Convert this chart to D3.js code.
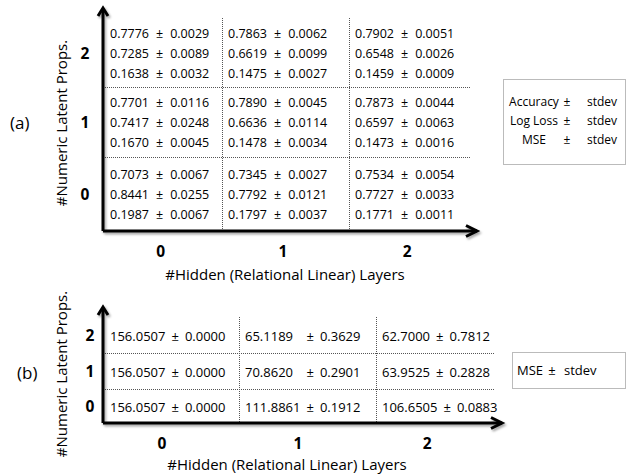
<!DOCTYPE html>
<html><head><meta charset="utf-8">
<script src="https://cdn.jsdelivr.net/npm/d3@7"></script>
<style>
body{margin:0;background:#fff}
text{font-family:'Open Sans',sans-serif;fill:#000}
</style></head>
<body><svg id="c" width="626" height="474"></svg>
<script>
// ---- data ----
const hiddenLayers = [0, 1, 2];
const latentProps = [0, 1, 2];
// panel (a), indexed [latentProps][hiddenLayers]
const accMean = [[0.7073,0.7345,0.7534],[0.7701,0.7890,0.7873],[0.7776,0.7863,0.7902]];
const accStd  = [[0.0067,0.0027,0.0054],[0.0116,0.0045,0.0044],[0.0029,0.0062,0.0051]];
const llMean  = [[0.8441,0.7792,0.7727],[0.7417,0.6636,0.6597],[0.7285,0.6619,0.6548]];
const llStd   = [[0.0255,0.0121,0.0033],[0.0248,0.0114,0.0063],[0.0089,0.0099,0.0026]];
const mseMeanA = [[0.1987,0.1797,0.1771],[0.1670,0.1478,0.1473],[0.1638,0.1475,0.1459]];
const mseStdA  = [[0.0067,0.0037,0.0011],[0.0045,0.0034,0.0016],[0.0032,0.0027,0.0009]];
// panel (b)
const mseMeanB = [[156.0507,111.8861,106.6505],[156.0507,70.8620,63.9525],[156.0507,65.1189,62.7000]];
const mseStdB  = [[0.0000,0.1912,0.0883],[0.0000,0.2901,0.2828],[0.0000,0.3629,0.7812]];
const legendA = ["Accuracy", "Log Loss", "MSE"];
const legendB = ["MSE"];
const xTitle = "#Hidden (Relational Linear) Layers";
const yTitle = "#Numeric Latent Props.";

const svg = d3.select("#c");
const defs = svg.append("defs");
const f = defs.append("filter").attr("id","sh").attr("x","-20%").attr("y","-20%").attr("width","140%").attr("height","140%");
f.append("feDropShadow").attr("dx",1.5).attr("dy",2).attr("stdDeviation",1).attr("flood-color","#000").attr("flood-opacity",0.35);

function drawPM(sel, x, y, m, s, gap, pmAt){
  const t = sel.append("text").attr("x", x).attr("y", y);
  t.append("tspan").text(m.toFixed(4));
  const pm = t.append("tspan").text("\u00b1");
  if (pmAt != null) pm.attr("x", pmAt); else pm.attr("dx", gap);
  t.append("tspan").attr("dx", gap).text(s.toFixed(4));
  return t;
}

function panel(cfg){
  const g = svg.append("g");
  const x = d3.scaleLinear().domain([0,1,2,3]).range(cfg.xr);
  const y = d3.scaleLinear().domain([0,1,2,3]).range(cfg.yr);
  const x0 = x(0) - 1, y0 = y(0);
  // grid
  const grid = g.append("g").attr("stroke","#555").attr("stroke-width",1).attr("stroke-dasharray","1,1");
  [1,2].forEach(i=>{
    grid.append("line").attr("x1",Math.round(x(i))+0.5).attr("x2",Math.round(x(i))+0.5).attr("y1",y(3)).attr("y2",y0);
    grid.append("line").attr("x1",x0).attr("x2",x(3)).attr("y1",Math.round(y(i))+0.5).attr("y2",Math.round(y(i))+0.5);
  });
  // axes
  const ax = g.append("g").attr("stroke","#000").attr("stroke-width",3).attr("fill","none").attr("filter","url(#sh)");
  const tipX = x(3) + cfg.arrowExt, tipY = y(3) - 10;
  ax.append("path").attr("d",`M${x0},${y0}H${tipX}`);
  ax.append("path").attr("d",`M${x0},${y0}V${tipY+1}`);
  ax.append("path").attr("d",`M${tipX-11},${y0-5.5}L${tipX},${y0}L${tipX-11},${y0+5.5}`).attr("stroke-linejoin","miter");
  ax.append("path").attr("d",`M${x0-5},${tipY+8}L${x0},${tipY}L${x0+5},${tipY+8}`).attr("stroke-linejoin","miter");
  // cells
  const cells = g.append("g").style("font-size", cfg.fs + "px");
  latentProps.forEach(r=>{
    const cy = (y(r) + y(r+1)) / 2;
    hiddenLayers.forEach(c=>{
      const cx = x(c) + 6;
      cfg.lines.forEach((ln, k)=>{
        const yy = cy + cfg.base + (k - (cfg.lines.length-1)/2) * 20;
        let pmAt = null;
        if (cfg.alignCol === c) {
          const tmp = cells.append("text");
          let w = 0;
          latentProps.forEach(rr=>{ tmp.text(ln.m[rr][c].toFixed(4)); w = Math.max(w, tmp.node().getComputedTextLength()); });
          tmp.remove();
          pmAt = cx + w + cfg.gap;
        }
        drawPM(cells, cx, yy, ln.m[r][c], ln.s[r][c], cfg.gap, pmAt);
      });
    });
    g.append("text").attr("x", cfg.rowLabX).attr("y", cy + 6).attr("text-anchor","middle")
      .style("font-size","15.5px").style("font-weight","bold").text(r);
  });
  hiddenLayers.forEach(c=>{
    g.append("text").attr("x", x(c + cfg.tickPos)).attr("y", cfg.tickY).attr("text-anchor","middle")
      .style("font-size","15.5px").style("font-weight","bold").text(c);
  });
  g.append("text").attr("x", cfg.xTitleX).attr("y", cfg.xTitleY).attr("text-anchor","middle")
    .style("font-size","15px").text(xTitle);
  g.append("text").attr("transform",`translate(${cfg.yTitleX},${cfg.yTitleY}) rotate(-90)`).attr("text-anchor","middle")
    .style("font-size","15px").text(yTitle);
  g.append("text").attr("x", cfg.labX).attr("y", cfg.labY).style("font-size","17px").text(cfg.label);
  // legend
  const lg = g.append("g").style("font-size", cfg.legFs + "px");
  lg.append("rect").attr("x",cfg.leg.x+0.5).attr("y",cfg.leg.y+0.5).attr("width",cfg.leg.w).attr("height",cfg.leg.h)
    .attr("fill","none").attr("stroke","#777").attr("stroke-dasharray","1,1");
  cfg.leg.items.forEach((it,k)=>{
    const yy = cfg.leg.ty + k*19;
    lg.append("text").attr("x",cfg.leg.nameX).attr("y",yy).attr("text-anchor",cfg.leg.anchor).text(it);
    lg.append("text").attr("x",cfg.leg.pmX).attr("y",yy).attr("text-anchor","middle").text("\u00b1");
    lg.append("text").attr("x",cfg.leg.sdX).attr("y",yy).text("stdev");
  });
}

panel({
  xr:[104,222,349,470], yr:[231,157,87,18], arrowExt:7, fs:12.5, legFs:12, gap:7, base:5,
  lines:[{m:accMean,s:accStd},{m:llMean,s:llStd},{m:mseMeanA,s:mseStdA}],
  alignCol:null, rowLabX:85, tickPos:0.48, tickY:257,
  xTitleX:285, xTitleY:280, yTitleX:67, yTitleY:123, label:"(a)", labX:10, labY:129,
  leg:{x:503,y:79,w:122,h:85,items:legendA,ty:106,nameX:534,anchor:"middle",pmX:567,sdX:587}
});
panel({
  xr:[104,239,376,495], yr:[423,389,353,317], arrowExt:7, fs:13, legFs:13, gap:6, base:6,
  lines:[{m:mseMeanB,s:mseStdB}],
  alignCol:1, rowLabX:90, tickPos:0.43, tickY:449,
  xTitleX:287, xTitleY:470, yTitleX:67, yTitleY:374, label:"(b)", labX:17, labY:379,
  leg:{x:512,y:352,w:113,h:36,items:legendB,ty:375,nameX:517,anchor:"start",pmX:552,sdX:564}
});
</script></body></html>
